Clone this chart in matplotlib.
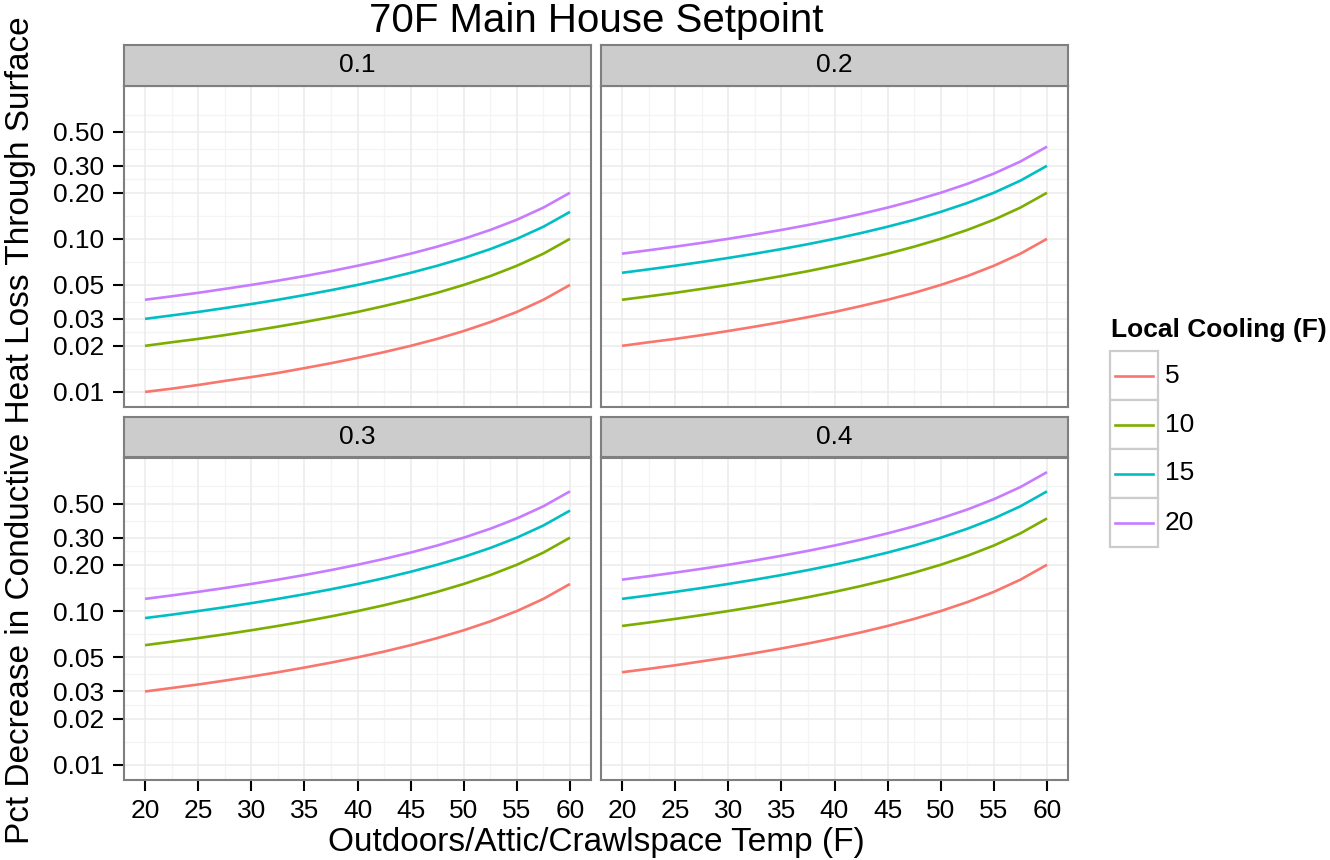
import matplotlib
matplotlib.use("Agg")
import matplotlib.pyplot as plt
from matplotlib.patches import Rectangle
from matplotlib.lines import Line2D
import numpy as np

plt.rcParams['font.family'] = ['Liberation Sans', 'DejaVu Sans']

# x positions (outdoor temp, F) and the series / facet names
temps = [20, 22.5, 25, 27.5, 30, 32.5, 35, 37.5, 40,
         42.5, 45, 47.5, 50, 52.5, 55, 57.5, 60]
cooling_labels = ["5", "10", "15", "20"]
cooling_colors = ["#F8766D", "#7CAE00", "#00BFC4", "#C77CFF"]
facet_labels = ["0.1", "0.2", "0.3", "0.4"]

pct_01 = [
    [0.010, 0.0105, 0.0111, 0.0118, 0.0125, 0.0133, 0.0143, 0.0154, 0.0167,
     0.0182, 0.020, 0.0222, 0.025, 0.0286, 0.0333, 0.040, 0.050],
    [0.020, 0.0211, 0.0222, 0.0235, 0.025, 0.0267, 0.0286, 0.0308, 0.0333,
     0.0364, 0.040, 0.0444, 0.050, 0.0571, 0.0667, 0.080, 0.100],
    [0.030, 0.0316, 0.0333, 0.0353, 0.0375, 0.040, 0.0429, 0.0462, 0.050,
     0.0545, 0.060, 0.0667, 0.075, 0.0857, 0.100, 0.120, 0.150],
    [0.040, 0.0421, 0.0444, 0.0471, 0.050, 0.0533, 0.0571, 0.0615, 0.0667,
     0.0727, 0.080, 0.0889, 0.100, 0.1143, 0.1333, 0.160, 0.200],
]
pct_02 = [
    [0.020, 0.0211, 0.0222, 0.0235, 0.025, 0.0267, 0.0286, 0.0308, 0.0333,
     0.0364, 0.040, 0.0444, 0.050, 0.0571, 0.0667, 0.080, 0.100],
    [0.040, 0.0421, 0.0444, 0.0471, 0.050, 0.0533, 0.0571, 0.0615, 0.0667,
     0.0727, 0.080, 0.0889, 0.100, 0.1143, 0.1333, 0.160, 0.200],
    [0.060, 0.0632, 0.0667, 0.0706, 0.075, 0.080, 0.0857, 0.0923, 0.100,
     0.1091, 0.120, 0.1333, 0.150, 0.1714, 0.200, 0.240, 0.300],
    [0.080, 0.0842, 0.0889, 0.0941, 0.100, 0.1067, 0.1143, 0.1231, 0.1333,
     0.1455, 0.160, 0.1778, 0.200, 0.2286, 0.2667, 0.320, 0.400],
]
pct_03 = [
    [0.030, 0.0316, 0.0333, 0.0353, 0.0375, 0.040, 0.0429, 0.0462, 0.050,
     0.0545, 0.060, 0.0667, 0.075, 0.0857, 0.100, 0.120, 0.150],
    [0.060, 0.0632, 0.0667, 0.0706, 0.075, 0.080, 0.0857, 0.0923, 0.100,
     0.1091, 0.120, 0.1333, 0.150, 0.1714, 0.200, 0.240, 0.300],
    [0.090, 0.0947, 0.100, 0.1059, 0.1125, 0.120, 0.1286, 0.1385, 0.150,
     0.1636, 0.180, 0.200, 0.225, 0.2571, 0.300, 0.360, 0.450],
    [0.120, 0.1263, 0.1333, 0.1412, 0.150, 0.160, 0.1714, 0.1846, 0.200,
     0.2182, 0.240, 0.2667, 0.300, 0.3429, 0.400, 0.480, 0.600],
]
pct_04 = [
    [0.040, 0.0421, 0.0444, 0.0471, 0.050, 0.0533, 0.0571, 0.0615, 0.0667,
     0.0727, 0.080, 0.0889, 0.100, 0.1143, 0.1333, 0.160, 0.200],
    [0.080, 0.0842, 0.0889, 0.0941, 0.100, 0.1067, 0.1143, 0.1231, 0.1333,
     0.1455, 0.160, 0.1778, 0.200, 0.2286, 0.2667, 0.320, 0.400],
    [0.120, 0.1263, 0.1333, 0.1412, 0.150, 0.160, 0.1714, 0.1846, 0.200,
     0.2182, 0.240, 0.2667, 0.300, 0.3429, 0.400, 0.480, 0.600],
    [0.160, 0.1684, 0.1778, 0.1882, 0.200, 0.2133, 0.2286, 0.2462, 0.2667,
     0.2909, 0.320, 0.3556, 0.400, 0.4571, 0.5333, 0.640, 0.800],
]
facet_data = [pct_01, pct_02, pct_03, pct_04]

y_breaks = [0.01, 0.02, 0.03, 0.05, 0.10, 0.20, 0.30, 0.50]
y_labels = ["0.01", "0.02", "0.03", "0.05", "0.10", "0.20", "0.30", "0.50"]
x_breaks = [20, 25, 30, 35, 40, 45, 50, 55, 60]

W, H = 1330, 860
fig = plt.figure(figsize=(W / 100, H / 100), dpi=100)
fig.patch.set_facecolor("white")


def rect(l, t, r, b):
    return [l / W, 1 - b / H, (r - l) / W, (b - t) / H]


# ggplot-ish expansion (5% each side)
xlo, xhi = min(temps), max(temps)
xpad = 0.05 * (xhi - xlo)
all_vals = np.array(facet_data).ravel()
ly0, ly1 = np.log10(all_vals.min()), np.log10(all_vals.max())
ypad = 0.05 * (ly1 - ly0)
ylim = (10 ** (ly0 - ypad), 10 ** (ly1 + ypad))

# minor grid: log-midpoints between breaks (plus one above the top)
lb = np.log10(y_breaks)
y_minor = list(10 ** ((lb[:-1] + lb[1:]) / 2))
y_minor.append(10 ** (lb[-1] + (lb[-1] - lb[-2]) / 2))
x_minor = [x + 2.5 for x in x_breaks[:-1]]

cols = [(123.75, 591.25), (600.75, 1068.25)]
rows = [((45, 86), (86, 406.5)), ((417, 457.5), (457.5, 779.5))]
border = "#7F7F7F"

for i, data in enumerate(facet_data):
    c, r = i % 2, i // 2
    (l, rr) = cols[c]
    (st, sb), (pt, pb) = rows[r]

    ax = fig.add_axes(rect(l, pt, rr, pb))
    ax.set_yscale("log")
    ax.set_xlim(xlo - xpad, xhi + xpad)
    ax.set_ylim(*ylim)
    ax.set_facecolor("white")

    for ym in y_minor:
        ax.axhline(ym, color="#F4F4F4", lw=0.9, zorder=0)
    for xm in x_minor:
        ax.axvline(xm, color="#F4F4F4", lw=0.9, zorder=0)
    for yb in y_breaks:
        ax.axhline(yb, color="#EBEBEB", lw=1.1, zorder=0.5)
    for xb in x_breaks:
        ax.axvline(xb, color="#EBEBEB", lw=1.1, zorder=0.5)

    for vals, col in zip(data, cooling_colors):
        ax.plot(temps, vals, color=col, lw=1.9, solid_capstyle="butt",
                solid_joinstyle="round", zorder=3)

    ax.set_yticks(y_breaks)
    ax.set_yticks([], minor=True)
    ax.set_xticks(x_breaks)
    ax.set_xticks([], minor=True)
    ax.tick_params(which="both", direction="out", length=8, width=1.5,
                   color="black", labelsize=19, pad=6)

    if c == 0:
        ax.set_yticklabels(y_labels)
    else:
        ax.set_yticklabels([])
        ax.tick_params(axis="y", length=0)
    if r == 1:
        ax.set_xticklabels([str(x) for x in x_breaks])
    else:
        ax.set_xticklabels([])
        ax.tick_params(axis="x", length=0)

    for sp in ax.spines.values():
        sp.set_color(border)
        sp.set_linewidth(1.5)

    # facet strip
    sx = fig.add_axes(rect(l, st, rr, sb))
    sx.set_facecolor("#CCCCCC")
    sx.set_xticks([])
    sx.set_yticks([])
    for sp in sx.spines.values():
        sp.set_color(border)
        sp.set_linewidth(1.5)
    sx.text(0.5, 0.5, facet_labels[i], ha="center", va="center",
            fontsize=19, transform=sx.transAxes)

fig.text(596 / W, 1 - 21 / H, "70F Main House Setpoint", ha="center",
         va="center", fontsize=29)
fig.text(596 / W, 1 - 842 / H, "Outdoors/Attic/Crawlspace Temp (F)",
         ha="center", va="center", fontsize=24)
fig.text(21 / W, 1 - 430 / H,
         "Pct Decrease in Conductive Heat Loss Through Surface",
         ha="center", va="center", rotation=90, fontsize=24)

# legend drawn ggplot style: grey bordered key boxes
fig.text(1111 / W, 1 - 330 / H, "Local Cooling (F)", ha="left", va="center",
         fontsize=19, fontweight="bold")
key_h = 49
for j, (lab, col) in enumerate(zip(cooling_labels, cooling_colors)):
    top = 351 + key_h * j
    fig.add_artist(Rectangle((1110 / W, 1 - (top + key_h) / H), 48 / W,
                             key_h / H, transform=fig.transFigure,
                             facecolor="white", edgecolor="#CCCCCC", lw=1.6))
    yc = 1 - (top + key_h / 2) / H
    fig.add_artist(Line2D([1115 / W, 1153 / W], [yc, yc],
                          transform=fig.transFigure, color=col, lw=1.9))
    fig.text(1165 / W, yc, lab, ha="left", va="center", fontsize=19)

fig.savefig("out.png", dpi=100)
